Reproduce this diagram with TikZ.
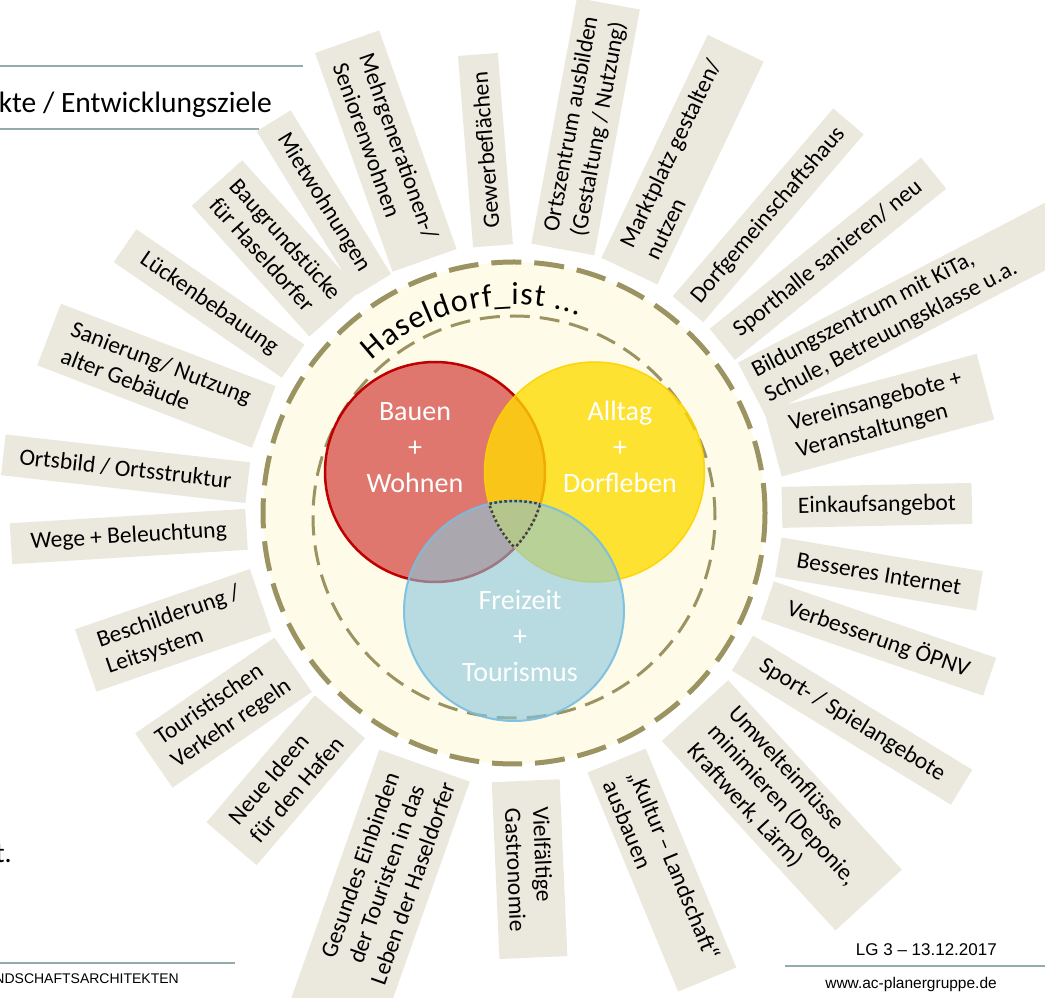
\documentclass[tikz,border=0pt]{standalone}
\usepackage{fontspec}
\setmainfont{Carlito}
\newfontfamily\footfont{Liberation Sans}

\definecolor{rayfill}{RGB}{235,233,222}
\definecolor{ringfill}{RGB}{254,251,232}
\definecolor{ringdash}{RGB}{156,147,98}
\definecolor{bauenfill}{RGB}{224,119,110}
\definecolor{bauenline}{RGB}{192,0,0}
\definecolor{alltagfill}{RGB}{255,220,0}
\definecolor{alltagline}{RGB}{255,210,0}
\definecolor{freizeitfill}{RGB}{136,199,219}
\definecolor{freizeitline}{RGB}{120,190,225}
\definecolor{ruleline}{RGB}{150,172,172}

\newcommand{\arcpos}{133}

\begin{document}
\begin{tikzpicture}[
  x = 1pt, y = 1pt,
  ray/.style = {
    shape = rectangle,
    fill = rayfill,
    inner sep = 0pt,
    outer sep = 0pt,
    align = left,
    font = \fontsize{23.5}{28}\selectfont,
  },
  ring/.style = {
    draw = ringdash,
  },
  venn/.style = {
    text = white,
    align = center,
    inner sep = 0pt,
    font = \fontsize{28}{36}\selectfont,
  },
  arcchar/.style = {
    anchor = base,
    inner sep = 0pt,
    font = \fontsize{32}{36}\selectfont,
  },
  triple/.style = {
    draw = black!75,
    line width = 2.5pt,
    dash pattern = on 2.5pt off 2.5pt,
  },
  rule/.style = {
    draw = ruleline,
    line width = 2pt,
  },
  foot/.style = {
    anchor = base east,
    inner sep = 0pt,
    font = \footfont\fontsize{15.5}{18}\selectfont,
  }
]
  \useasboundingbox (0, 0) rectangle (1045, 997);
  \clip (0, 0) rectangle (1045, 997);

  \coordinate (c) at (514, 484);
  \coordinate (ci) at (514, 480);
  \coordinate (vr) at (435, 525);
  \coordinate (vy) at (594.5, 525);
  \coordinate (vb) at (514, 386);

  \node[ray, minimum width = 232pt, minimum height = 68pt, rotate = -70.5] (b1) at ([shift={(109.5:384)}]c) {Mehrgenerationen-/\\Seniorenwohnen};
  \node[ray, minimum width = 192pt, minimum height = 40pt, rotate = 94.5] (b2) at ([shift={(94.5:364)}]c) {Gewerbeflächen};
  \node[ray, minimum width = 250pt, minimum height = 64pt, rotate = 79.5] (b3) at ([shift={(79.5:393)}]c) {Ortszentrum ausbilden\\(Gestaltung / Nutzung)};
  \node[ray, minimum width = 247pt, minimum height = 62pt, rotate = 64.5] (b4) at ([shift={(64.5:391.5)}]c) {Marktplatz gestalten/\\nutzen};
  \node[ray, minimum width = 247pt, minimum height = 40pt, rotate = 49.5] (b5) at ([shift={(49.5:391.5)}]c) {Dorfgemeinschaftshaus};
  \node[ray, minimum width = 272pt, minimum height = 40pt, rotate = 39] (b6) at ([shift={(39:404)}]c) {Sporthalle sanieren/ neu};
  \node[ray, minimum width = 372pt, minimum height = 60pt, rotate = 27.5] (b7) at ([shift={(27.5:454)}]c) {};
  \node[ray, fill = none, rotate = 27.5] (t7) at ([shift={(27.5:418)}]c) {Bildungszentrum mit KiTa,\\Schule, Betreuungsklasse u.a.};
  \node[ray, minimum width = 220pt, minimum height = 68pt, rotate = 15] (b8) at ([shift={(15:378)}]c) {Vereinsangebote +\\Veranstaltungen};
  \node[ray, minimum width = 190pt, minimum height = 41pt, rotate = 1.2] (b9) at ([shift={(1.2:363)}]c) {Einkaufsangebot};
  \node[ray, minimum width = 204pt, minimum height = 40pt, rotate = -9.5] (b10) at ([shift={(-9.5:370)}]c) {Besseres Internet};
  \node[ray, minimum width = 235pt, minimum height = 40pt, rotate = -19] (b11) at ([shift={(-19:385.5)}]c) {Verbesserung ÖPNV};
  \node[ray, minimum width = 257pt, minimum height = 41pt, rotate = -31.5] (b12) at ([shift={(-31.5:396.5)}]c) {Sport- / Spielangebote};
  \node[ray, minimum width = 257pt, minimum height = 90pt, rotate = -47.5] (b13) at ([shift={(-47.5:396.5)}]c) {Umwelteinflüsse\\minimieren (Deponie,\\Kraftwerk, Lärm)};
  \node[ray, minimum width = 237pt, minimum height = 63pt, rotate = -67.5] (b14) at ([shift={(-67.5:386.5)}]c) {„Kultur – Landschaft“\\ausbauen};
  \node[ray, minimum width = 177pt, minimum height = 68pt, rotate = -87.5] (b15) at ([shift={(-87.5:356.5)}]c) {Vielfältige\\Gastronomie};
  \node[ray, minimum width = 292pt, minimum height = 96pt, rotate = 70.5] (b16) at ([shift={(-109.5:414)}]c) {};
  \node[ray, fill = none, align = center, rotate = 70.5] (t16) at ([shift={(-109.5:383)}]c) {Gesundes Einbinden\\der Touristen in das\\Leben der Haseldorfer};
  \node[ray, minimum width = 167pt, minimum height = 66pt, rotate = 49.5] (b17) at ([shift={(-130.5:351.5)}]c) {Neue Ideen\\für den Hafen};
  \node[ray, minimum width = 169pt, minimum height = 66pt, rotate = 34.5] (b18) at ([shift={(-145.5:352.5)}]c) {Touristischen\\Verkehr regeln};
  \node[ray, minimum width = 185pt, minimum height = 66pt, rotate = 19] (b19) at ([shift={(-161:360.5)}]c) {Beschilderung /\\Leitsystem};
  \node[ray, minimum width = 236pt, minimum height = 41pt, rotate = 3.5] (b20) at ([shift={(-176.5:386)}]c) {Wege + Beleuchtung};
  \node[ray, minimum width = 246pt, minimum height = 41pt, rotate = -6.5] (b21) at ([shift={(173.5:391)}]c) {Ortsbild / Ortsstruktur};
  \node[ray, minimum width = 230pt, minimum height = 66pt, rotate = -21] (b22) at ([shift={(159:383)}]c) {Sanierung/ Nutzung\\alter Gebäude};
  \node[ray, minimum width = 204pt, minimum height = 40pt, rotate = -34.5] (b23) at ([shift={(145.5:370)}]c) {Lückenbebauung};
  \node[ray, minimum width = 176pt, minimum height = 68pt, rotate = -48] (b24) at ([shift={(132:356)}]c) {Baugrundstücke\\für Haseldorfer};
  \node[ray, minimum width = 192pt, minimum height = 40pt, rotate = -58.5] (b25) at ([shift={(121.5:364)}]c) {Mietwohnungen};

  \draw[ring, fill = ringfill, line width = 5pt, dash pattern = on 30pt off 13pt] (c) circle[radius = 251pt];
  \draw[ring, line width = 3pt, dash pattern = on 20pt off 10pt] (ci) circle[radius = 201pt];

  \filldraw[fill = bauenfill, draw = bauenline, line width = 2.5pt] (vr) circle[radius = 110pt];
  \filldraw[fill = alltagfill, draw = alltagline, line width = 1.5pt, fill opacity = 0.78, draw opacity = 0.9] (vy) circle[radius = 110pt];
  \filldraw[fill = freizeitfill, draw = freizeitline, line width = 2pt, fill opacity = 0.6, draw opacity = 0.9] (vb) circle[radius = 110pt];

  \begin{scope}
    \clip (vr) circle[radius = 110pt];
    \clip (vy) circle[radius = 110pt];
    \draw[triple] (vb) circle[radius = 110pt];
  \end{scope}
  \begin{scope}
    \clip (vy) circle[radius = 110pt];
    \clip (vb) circle[radius = 110pt];
    \draw[triple] (vr) circle[radius = 110pt];
  \end{scope}
  \begin{scope}
    \clip (vr) circle[radius = 110pt];
    \clip (vb) circle[radius = 110pt];
    \draw[triple] (vy) circle[radius = 110pt];
  \end{scope}

  \node[venn] (bauen) at (415, 549) {Bauen\\+\\Wohnen};
  \node[venn] (alltag) at (620, 550) {Alltag\\+\\Dorfleben};
  \node[venn] (freizeit) at (520, 361) {Freizeit\\+\\Tourismus};

  \foreach \ch/\w in {H/19.9, a/15.3, s/12.5, e/15.9, l/7.3, d/16.8, o/16.9, r/11.2, f/9.8, \_/15.9, i/7.3, s/12.5, t/10.7, {~}/7.2, ./8.1, ./8.1, ./8.1} {
    \pgfmathsetmacro{\archmid}{\arcpos - 0.5*\w/208*57.2958}
    \node[arcchar, rotate = \archmid - 90] at ([shift={(\archmid:208)}]c) {\ch};
    \pgfmathsetmacro{\archnext}{\arcpos - (\w + 1.2)/208*57.2958}
    \global\let\arcpos\archnext
  }

  \draw[rule] (0, 931) -- (303, 931);
  \draw[rule] (0, 868) -- (259, 868);
  \node[anchor = base east, inner sep = 0pt, font = \fontsize{29.5}{35}\selectfont] (title) at (272, 884) {kte / Entwicklungsziele};
  \node[anchor = base east, inner sep = 0pt, font = \fontsize{28}{34}\selectfont] (rest) at (12, 135) {t.};

  \draw[rule] (0, 34) -- (235, 34);
  \node[foot, font = \footfont\fontsize{14}{16}\selectfont] (office) at (179, 14) {NDSCHAFTSARCHITEKTEN};
  \draw[rule] (785, 31) -- (1045, 31);
  \node[foot, font = \footfont\fontsize{17}{20}\selectfont] (date) at (997, 42) {LG 3 – 13.12.2017};
  \node[foot] (web) at (997, 9) {www.ac-planergruppe.de};
\end{tikzpicture}
\end{document}
